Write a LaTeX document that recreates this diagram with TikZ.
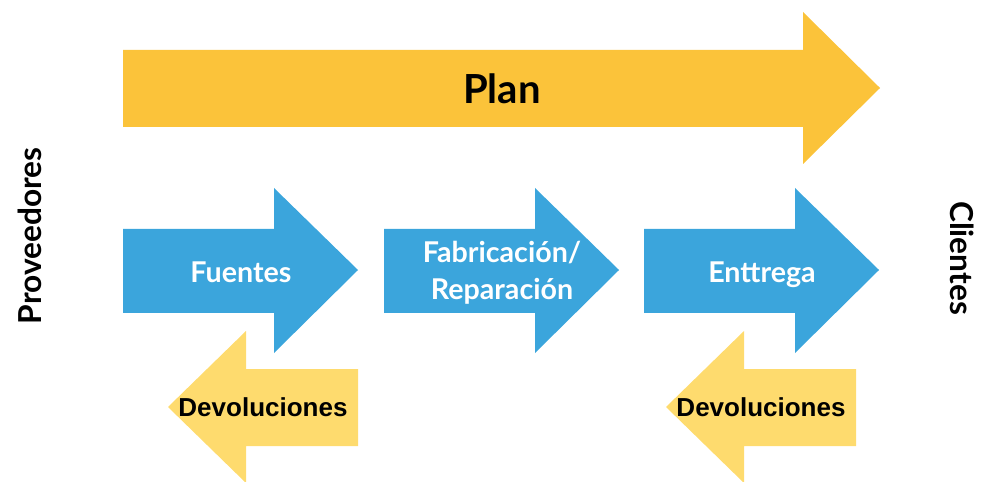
\documentclass[tikz,border=0pt]{standalone}
\usepackage{fontspec}
\setmainfont{Lato}
\newfontfamily\devfont{Liberation Sans}
\definecolor{planyellow}{RGB}{251,195,58}
\definecolor{stepblue}{RGB}{59,165,220}
\definecolor{backyellow}{RGB}{254,219,110}
\tikzset{
  plantext/.style={font=\fontsize{22.8}{26}\selectfont\bfseries, text=black},
  steptext/.style={font=\fontsize{16.3}{21}\selectfont\bfseries, text=white, align=center},
  backtext/.style={font=\devfont\fontsize{14.8}{17}\selectfont\bfseries, text=black},
  sidetext/.style={font=\fontsize{18}{21}\selectfont\bfseries, text=black}
}
\begin{document}
\begin{tikzpicture}[x=0.02cm, y=-0.02cm]
			\useasboundingbox (0,0) rectangle (982,482);
			% Plan arrow across the top
			\fill[planyellow] (123,50) -- (803,50) -- (803,12) -- (880,88) -- (803,164) -- (803,127) -- (123,127) -- cycle;
			\node[plantext] (plan) at (502,89) {Plan};
			% Three forward steps, each body 151 wide and head 84 long
			\foreach \x/\ty/\name/\label in {123/272/fuentes/Fuentes, 384/273/fabricacion/{Fabricación/\\Reparación}, 644/275/entrega/Enttrega} {
				\fill[stepblue] (\x,229) -- (\x+151,229) -- (\x+151,188) -- (\x+235,270) -- (\x+151,353) -- (\x+151,313) -- (\x,313) -- cycle;
				\node[steptext] (\name) at (\x+118,\ty) {\label};
			}
			% Returns going back, below the first and last steps
			\foreach \x/\name in {358/devuno, 856/devdos} {
				\fill[backyellow] (\x,369) -- (\x-112,369) -- (\x-112,331) -- (\x-190,407) -- (\x-112,483) -- (\x-112,446) -- (\x,446) -- cycle;
				\node[backtext] (\name) at (\x-95,407) {Devoluciones};
			}
			% Ends of the chain
			\node[sidetext, rotate=90] (proveedores) at (30,236) {Proveedores};
			\node[sidetext, rotate=-90] (clientes) at (962,258) {Clientes};
\end{tikzpicture}
\end{document}
